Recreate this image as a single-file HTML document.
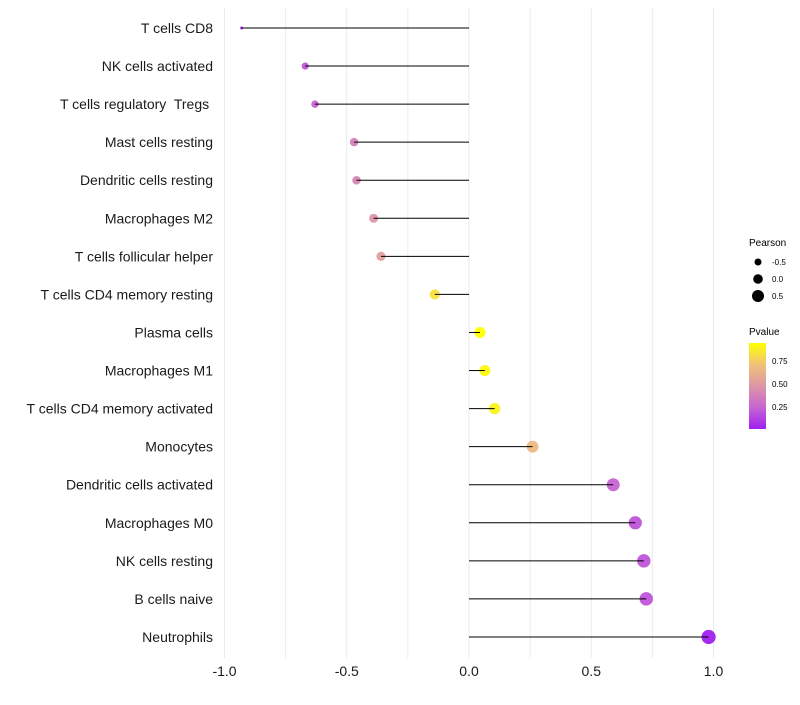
<!DOCTYPE html>
<html><head><meta charset="utf-8"><style>
body{margin:0;background:#fff;font-family:"Liberation Sans",sans-serif}
text{white-space:pre}
</style></head><body>
<svg id="c" width="800" height="700" xmlns="http://www.w3.org/2000/svg" font-family="Liberation Sans, sans-serif">
<defs><linearGradient id="pg" x1="0" y1="1" x2="0" y2="0">
<stop offset="0" stop-color="#A020F0"/><stop offset="0.25" stop-color="#C764D2"/><stop offset="0.5" stop-color="#DD96A6"/><stop offset="0.75" stop-color="#F0C27A"/><stop offset="1" stop-color="#FFFF00"/></linearGradient></defs>
<g id="grid"></g>
<g id="marks"></g>
<g id="labels"></g>
<g id="xt"></g>
<g>
<text x="749" y="246" font-size="10">Pearson</text>
<circle cx="758" cy="262" r="3.5" fill="#000"/>
<text x="772" y="265" font-size="8">-0.5</text>
<circle cx="758" cy="279" r="4.8" fill="#000"/>
<text x="772" y="282" font-size="8">0.0</text>
<circle cx="758" cy="296" r="6" fill="#000"/>
<text x="772" y="299" font-size="8">0.5</text>
</g>
<g>
<text x="749" y="335" font-size="10">Pvalue</text>
<rect x="749" y="343" width="17" height="86" fill="url(#pg)"/>
<text x="772" y="364" font-size="8">0.75</text>
<text x="772" y="387" font-size="8">0.50</text>
<text x="772" y="410" font-size="8">0.25</text>
</g>
</svg>
<script>
const categories=["T cells CD8","NK cells activated","T cells regulatory  Tregs ","Mast cells resting","Dendritic cells resting","Macrophages M2","T cells follicular helper","T cells CD4 memory resting","Plasma cells","Macrophages M1","T cells CD4 memory activated","Monocytes","Dendritic cells activated","Macrophages M0","NK cells resting","B cells naive","Neutrophils"];
const pearson=[-0.93,-0.67,-0.63,-0.47,-0.46,-0.39,-0.36,-0.14,0.045,0.065,0.105,0.26,0.59,0.68,0.715,0.725,0.98];
const pvalue=[0.02,0.2,0.25,0.4,0.42,0.5,0.55,0.85,0.95,0.92,0.9,0.7,0.25,0.2,0.2,0.2,0.02];
const xTicks=[-1,-0.5,0,0.5,1];
const xTickLabels=["-1.0","-0.5","0.0","0.5","1.0"];
const NS="http://www.w3.org/2000/svg";
const x=v=>469+v*244.5;
const y=i=>28+i*38.06;
const pMin=Math.min(...pearson),pMax=Math.max(...pearson);
const rad=v=>1.5+5.6*Math.sqrt((v-pMin)/(pMax-pMin));
const stops=[[0.02,[160,32,240]],[0.25,[199,100,210]],[0.5,[221,150,166]],[0.75,[240,194,122]],[0.945,[255,255,0]]];
function col(p){p=Math.max(0.02,Math.min(0.945,p));for(let k=0;k<stops.length-1;k++){const a=stops[k],b=stops[k+1];if(p<=b[0]){const t=(p-a[0])/(b[0]-a[0]);return "rgb("+a[1].map((c,j)=>Math.round(c+(b[1][j]-c)*t)).join(",")+")";}}return "rgb(255,255,0)";}
function mk(tag,at,parent){const e=document.createElementNS(NS,tag);for(const k in at)e.setAttribute(k,at[k]);parent.appendChild(e);return e;}
const grid=document.getElementById('grid');
for(let v=-1;v<=1.001;v+=0.25){const g=mk('line',{x1:x(v),x2:x(v),y1:8,y2:658,stroke:'#ebebeb','stroke-width':1},grid);

}
const marks=document.getElementById('marks'),labels=document.getElementById('labels'),xt=document.getElementById('xt');
categories.forEach((c,i)=>{
const pt=mk('circle',{cx:x(pearson[i]),cy:y(i),r:rad(pearson[i]),fill:col(pvalue[i]),'fill-opacity':0.95},marks);


const ln=mk('line',{x1:x(0),x2:x(pearson[i]),y1:y(i),y2:y(i),stroke:'#000','stroke-width':1},marks);


const t=mk('text',{x:213,y:y(i)+5,'text-anchor':'end','font-size':14,fill:'#1a1a1a'},labels);
t.textContent=c;


});
xTicks.forEach((v,i)=>{const t=mk('text',{x:x(v),y:676,'text-anchor':'middle','font-size':14,fill:'#1a1a1a'},xt);
t.textContent=xTickLabels[i];

});
</script>
</body></html>
